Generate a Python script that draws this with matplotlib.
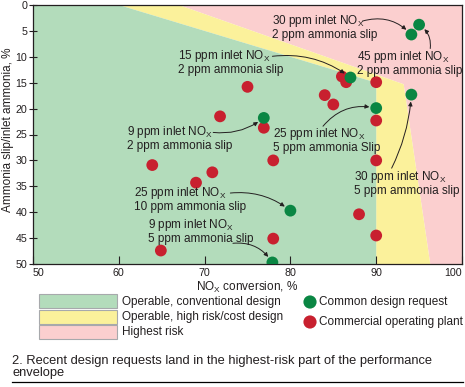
import matplotlib
matplotlib.use('Agg')
import matplotlib.pyplot as plt
from matplotlib.patches import Polygon, Rectangle

plt.rcParams['font.family'] = ['Liberation Sans', 'DejaVu Sans']
plt.rcParams['mathtext.default'] = 'regular'

# envelope boundaries (NOx conversion %, ammonia slip %)
green_x = [50, 60, 90, 90, 50]
green_y = [0, 0, 15, 50, 50]
yellow_x = [60, 67, 93.2, 96.3, 90, 90]
yellow_y = [0, 0, 15.3, 50, 50, 15]
pink_x = [67, 100, 100, 96.3, 93.2]
pink_y = [0, 0, 50, 50, 15.3]

# common design requests
req_x = [95.0, 94.1, 87.0, 90.0, 94.1, 76.9, 80.0, 77.9]
req_y = [3.8, 5.7, 14.0, 19.9, 17.3, 21.8, 39.7, 49.7]

# commercial operating plants
plant_x = [86.0, 86.5, 90.0, 75.0, 84.0, 85.0, 90.0, 76.9, 71.8, 78.0,
           90.0, 88.0, 90.0, 78.0, 63.9, 70.9, 69.0, 64.9]
plant_y = [13.8, 14.9, 14.9, 15.8, 17.4, 19.2, 22.3, 23.7, 21.5, 30.0,
           30.0, 40.4, 44.5, 45.1, 30.9, 32.3, 34.3, 47.4]

NOX = 'NO$_X$'
labels = ['30 ppm inlet ' + NOX + '\n2 ppm ammonia slip',
          '45 ppm inlet ' + NOX + '\n2 ppm ammonia slip',
          '15 ppm inlet ' + NOX + '\n2 ppm ammonia slip',
          '9 ppm inlet ' + NOX + '\n2 ppm ammonia slip',
          '25 ppm inlet ' + NOX + '\n5 ppm ammonia Slip',
          '30 ppm inlet ' + NOX + '\n5 ppm ammonia slip',
          '25 ppm inlet ' + NOX + '\n10 ppm ammonia slip',
          '9 ppm inlet ' + NOX + '\n5 ppm ammonia slip']
label_point = [1, 0, 2, 5, 3, 4, 6, 7]   # index into req_x / req_y
label_pos = [(77.9, 4.2), (87.8, 11.2), (66.9, 11.0), (61.0, 25.6),
             (78.0, 26.1), (87.4, 34.3), (61.8, 37.4), (63.4, 43.6)]
arrow_start = [(88.4, 3.1), (96.3, 8.4), (77.9, 9.9), (71.0, 24.6),
               (83.8, 23.4), (91.8, 31.5), (73.0, 36.3), (73.3, 46.0)]
arrow_rad = [-0.3, 0.3, -0.2, 0.2, -0.3, 0.1, -0.2, -0.3]

GREEN_FILL = '#b3dcbb'
YELLOW_FILL = '#fbf19b'
PINK_FILL = '#fbcfcf'
GREEN_DOT = '#0a8643'
RED_DOT = '#c8202f'
TXT = '#231f20'
FS = 8.5
TICK_FS = 7.7

fig = plt.figure(figsize=(4.65, 3.87), dpi=100)
ax = fig.add_axes([33 / 465, 1 - 264 / 387, 429 / 465, 259 / 387])

ax.add_patch(Polygon(list(zip(pink_x, pink_y)), closed=True, facecolor=PINK_FILL, edgecolor='none'))
ax.add_patch(Polygon(list(zip(yellow_x, yellow_y)), closed=True, facecolor=YELLOW_FILL, edgecolor='none'))
ax.add_patch(Polygon(list(zip(green_x, green_y)), closed=True, facecolor=GREEN_FILL, edgecolor='none'))

ax.scatter(plant_x, plant_y, s=72, color=RED_DOT, edgecolors='none', zorder=3)
ax.scatter(req_x, req_y, s=72, color=GREEN_DOT, edgecolors='none', zorder=4)

for i in range(len(labels)):
    ax.text(label_pos[i][0], label_pos[i][1], labels[i], ha='left', va='center',
            fontsize=FS, color=TXT, linespacing=1.0, zorder=5)
    p = label_point[i]
    ax.annotate('', xy=(req_x[p], req_y[p]), xytext=arrow_start[i],
                arrowprops=dict(arrowstyle='-|>', color=TXT, lw=0.7,
                                mutation_scale=6, shrinkA=0, shrinkB=5,
                                connectionstyle='arc3,rad=%s' % arrow_rad[i]),
                zorder=5)

ax.set_xlim(50, 100)
ax.set_ylim(50, 0)
ax.set_xticks([50, 60, 70, 80, 90, 100])
ax.set_yticks(range(0, 51, 5))
ax.tick_params(axis='x', direction='in', length=6, width=0.8, labelsize=TICK_FS, pad=3, colors=TXT)
ax.tick_params(axis='y', direction='inout', length=6, width=0.8, labelsize=TICK_FS, pad=1, colors=TXT)
xl = ax.get_xticklabels()
xl[-1].set_horizontalalignment('right')
xl[0].set_horizontalalignment('left')
for s in ax.spines.values():
    s.set_linewidth(0.9)
    s.set_color('#231f20')
ax.set_xlabel('NO$_X$ conversion, %', fontsize=FS, color=TXT, labelpad=1)
ax.set_ylabel('Ammonia slip/inlet ammonia, %', fontsize=FS, color=TXT)
ax.yaxis.set_label_coords(-0.045, 0.52)

# legend and caption, drawn in pixel coordinates
lg = fig.add_axes([0, 0, 1, 1], facecolor='none')
lg.set_xlim(0, 465)
lg.set_ylim(387, 0)
lg.axis('off')
leg_fill = [GREEN_FILL, YELLOW_FILL, PINK_FILL]
leg_text = ['Operable, conventional design', 'Operable, high risk/cost design', 'Highest risk']
for i in range(3):
    top = 294 + i * 15.5
    lg.add_patch(Rectangle((39, top), 78, 14, facecolor=leg_fill[i], edgecolor='#a7a9ac', lw=0.8))
    lg.text(122, top + 7.5, leg_text[i], ha='left', va='center', fontsize=FS, color=TXT)
dot_col = [GREEN_DOT, RED_DOT]
dot_text = ['Common design request', 'Commercial operating plant']
for i in range(2):
    cy = 302 + i * 20
    lg.scatter([310], [cy], s=90, color=dot_col[i], edgecolors='none')
    lg.text(319, cy, dot_text[i], ha='left', va='center', fontsize=FS, color=TXT)

lg.text(12, 367, '2. Recent design requests land in the highest-risk part of the performance\nenvelope',
        ha='left', va='center', fontsize=9.3, color=TXT, linespacing=0.95)
lg.plot([12, 463], [382, 382], color='black', lw=0.9)

fig.savefig('out.png', dpi=100)
